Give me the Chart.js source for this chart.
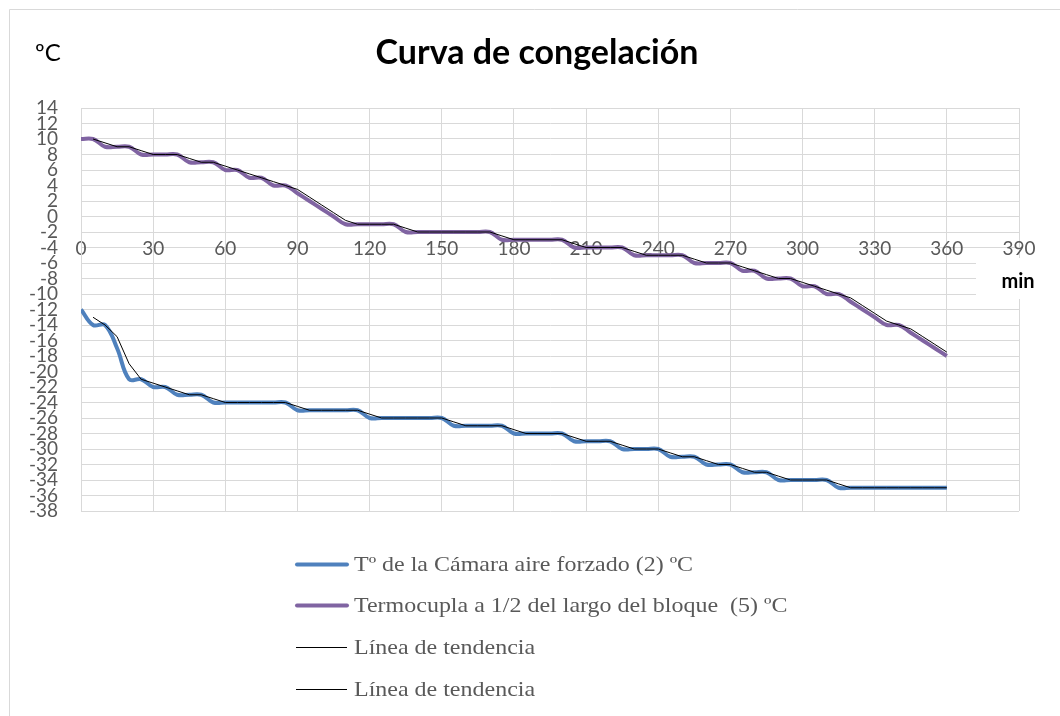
<!DOCTYPE html>
<html>
<head>
<meta charset="utf-8">
<script src="https://cdn.jsdelivr.net/npm/chart.js"></script>
<style>
  html, body { margin: 0; padding: 0; background: #fff; }
</style>
</head>
<body>
<canvas id="myChart" width="1060" height="716"></canvas>
<script>
// sampling times (min)
var minutes = [0, 5, 10, 15, 20, 25, 30, 35, 40, 45, 50, 55, 60, 65, 70, 75, 80, 85, 90, 95,
  100, 105, 110, 115, 120, 125, 130, 135, 140, 145, 150, 155, 160, 165, 170, 175, 180, 185, 190, 195,
  200, 205, 210, 215, 220, 225, 230, 235, 240, 245, 250, 255, 260, 265, 270, 275, 280, 285, 290, 295,
  300, 305, 310, 315, 320, 325, 330, 335, 340, 345, 350, 355, 360];

// Tº de la Cámara aire forzado (2) ºC
var camara = [-12, -14, -14, -17, -21, -21, -22, -22, -23, -23, -23, -24, -24, -24, -24, -24, -24, -24, -25, -25,
  -25, -25, -25, -25, -26, -26, -26, -26, -26, -26, -26, -27, -27, -27, -27, -27, -28, -28, -28, -28,
  -28, -29, -29, -29, -29, -30, -30, -30, -30, -31, -31, -31, -32, -32, -32, -33, -33, -33, -34, -34,
  -34, -34, -34, -35, -35, -35, -35, -35, -35, -35, -35, -35, -35];

// Termocupla a 1/2 del largo del bloque (5) ºC
var termocupla = [10, 10, 9, 9, 9, 8, 8, 8, 8, 7, 7, 7, 6, 6, 5, 5, 4, 4, 3, 2,
  1, 0, -1, -1, -1, -1, -1, -2, -2, -2, -2, -2, -2, -2, -2, -3, -3, -3, -3, -3,
  -3, -4, -4, -4, -4, -4, -5, -5, -5, -5, -5, -6, -6, -6, -6, -7, -7, -8, -8, -8,
  -9, -9, -10, -10, -11, -12, -13, -14, -14, -15, -16, -17, -18];

var xTicks = [0, 30, 60, 90, 120, 150, 180, 210, 240, 270, 300, 330, 360, 390];
var yTicks = [14, 12, 10, 8, 6, 4, 2, 0, -2, -4, -6, -8, -10, -12, -14, -16, -18, -20,
  -22, -24, -26, -28, -30, -32, -34, -36, -38];

var legendLabels = ['Tº de la Cámara aire forzado (2) ºC', 'Termocupla a 1/2 del largo del bloque  (5) ºC',
  'Línea de tendencia', 'Línea de tendencia'];

function points(values) {
  return values.map(function (v, i) { return { x: minutes[i], y: v }; });
}

// Excel style moving average trend line (period 2)
function movingAverage(values) {
  var out = [];
  for (var i = 1; i < values.length; i++) {
    out.push({ x: minutes[i], y: (values[i - 1] + values[i]) / 2 });
  }
  return out;
}

var extras = {
  id: 'extras',
  beforeDraw: function (chart) {
    var c = chart.ctx;
    c.save();
    c.fillStyle = '#fff';
    c.fillRect(0, 0, chart.width, chart.height);
    c.strokeStyle = '#d9d9d9';
    c.lineWidth = 1;
    c.beginPath();
    c.moveTo(9.5, chart.height);
    c.lineTo(9.5, 9.5);
    c.lineTo(chart.width, 9.5);
    c.stroke();
    c.restore();
  },
  afterDraw: function (chart) {
    var c = chart.ctx;
    c.save();
    c.textBaseline = 'middle';

    // title
    c.fillStyle = '#000';
    c.textAlign = 'center';
    c.font = 'bold 34px Lato';
    c.fillText('Curva de congelación', 537, 53);

    c.textAlign = 'left';
    c.font = '24px Lato';
    c.fillText('ºC', 35, 53);

    // axis title box over the grid
    c.fillStyle = '#fff';
    c.fillRect(976, 258, 84, 41);
    c.fillStyle = '#000';
    c.font = 'bold 20px Lato';
    c.textAlign = 'center';
    c.fillText('min', 1018, 282);

    // legend
    var rows = [564, 605, 647, 689];
    c.textAlign = 'left';
    c.font = '22px "Liberation Serif"';
    chart.data.datasets.forEach(function (ds, i) {
      var y = rows[i];
      c.strokeStyle = ds.borderColor;
      c.lineWidth = ds.borderWidth;
      c.lineCap = i < 2 ? 'round' : 'butt';
      c.beginPath();
      c.moveTo(i < 2 ? 297 : 296, y + 0.5);
      c.lineTo(347, y + 0.5);
      c.stroke();
      c.fillStyle = '#595959';
      c.save();
      c.translate(354, y + 1);
      c.scale(1.09, 1);
      c.fillText(legendLabels[i], 0, 0);
      c.restore();
    });
    c.restore();
  }
};

Chart.defaults.font.family = 'Lato';

var ctx = document.getElementById('myChart').getContext('2d');
var myChart = new Chart(ctx, {
  type: 'line',
  data: {
    datasets: [{
      label: legendLabels[0],
      data: points(camara),
      borderColor: 'rgb(79, 129, 189)',
      borderWidth: 4,
      tension: 0.4,
      pointRadius: 0,
      order: 2
    }, {
      label: legendLabels[1],
      data: points(termocupla),
      borderColor: 'rgb(128, 100, 162)',
      borderWidth: 4,
      tension: 0.4,
      pointRadius: 0,
      order: 2
    }, {
      label: legendLabels[2],
      data: movingAverage(camara),
      borderColor: '#000',
      borderWidth: 1,
      tension: 0,
      pointRadius: 0,
      order: 1
    }, {
      label: legendLabels[3],
      data: movingAverage(termocupla),
      borderColor: '#000',
      borderWidth: 1,
      tension: 0,
      pointRadius: 0,
      order: 1
    }]
  },
  options: {
    responsive: false,
    animation: false,
    devicePixelRatio: 1,
    layout: { padding: { left: 9, right: 41, top: 108, bottom: 205 } },
    plugins: {
      legend: { display: false },
      tooltip: { enabled: false },
      title: { display: false }
    },
    scales: {
      x: {
        type: 'linear',
        position: { y: 0 },
        min: 0,
        max: 390,
        afterBuildTicks: function (scale) {
          scale.ticks = xTicks.map(function (v) { return { value: v }; });
        },
        grid: { color: '#d9d9d9', lineWidth: 1, drawTicks: false },
        border: { color: '#d9d9d9' },
        ticks: { color: '#595959', font: { size: 19 }, padding: 21, maxRotation: 0, autoSkip: false }
      },
      y: {
        min: -38,
        max: 14,
        afterBuildTicks: function (scale) {
          scale.ticks = yTicks.map(function (v) { return { value: v }; });
        },
        afterFit: function (scale) { scale.width = 72; },
        grid: { color: '#d9d9d9', lineWidth: 1, drawTicks: false },
        border: { color: '#d9d9d9' },
        ticks: { color: '#595959', font: { size: 19 }, padding: 23, autoSkip: false }
      }
    }
  },
  plugins: [extras]
});
</script>
</body>
</html>
